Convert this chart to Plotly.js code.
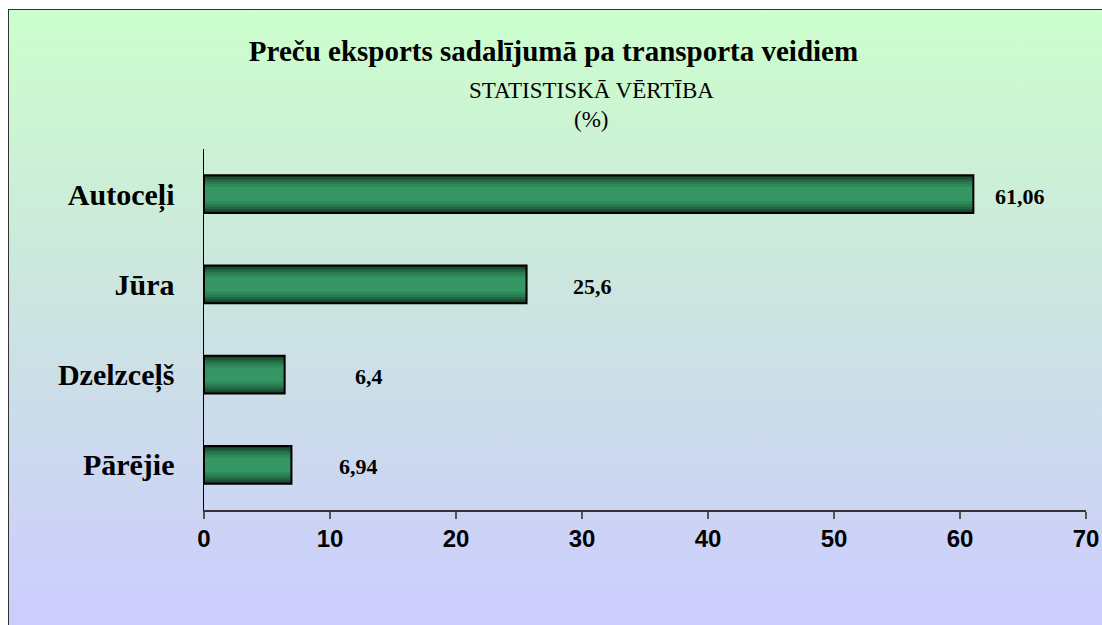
<!DOCTYPE html>
<html>
<head>
<meta charset="utf-8">
<script src="https://cdn.plot.ly/plotly-3.0.1.min.js"></script>
<style>
  html, body { margin: 0; padding: 0; width: 1102px; height: 625px; overflow: hidden; background: #ffffff; }
  #box {
    position: absolute; left: 8px; top: 9px; width: 1100px; height: 620px;
    border: 1px solid #333333; box-sizing: border-box;
    background: linear-gradient(to bottom, #ccffcc 0%, #cce8dc 40%, #ccccff 100%);
  }
  #chart { position: absolute; left: 0; top: 0; }
</style>
</head>
<body>
<div id="box"><div id="chart"></div></div>
<script>
// ---- data ----
const categories = ['Autoceļi', 'Jūra', 'Dzelzceļš', 'Pārējie'];
const values = [61.06, 25.6, 6.4, 6.94];
const valueLabels = ['61,06', '25,6', '6,4', '6,94'];
const xTickVals = [0, 10, 20, 30, 40, 50, 60, 70];
const titleText = 'Preču eksports sadalījumā pa transporta veidiem';
const subtitleText = 'STATISTISKĀ VĒRTĪBA';
const unitText = '(%)';

// ---- style ----
const labelShift = [20, 44, 68, 46];
const layerWidths = [0.42, 0.38, 0.33, 0.28, 0.22, 0.16];
const layerColors = ['#163a27', '#1d5036', '#246644', '#2a7a50', '#2f8a5b', '#339663'];
const serif = '"Liberation Serif", "Times New Roman", serif';
const sans = '"Liberation Sans", Arial, sans-serif';

const traces = layerWidths.map((w, i) => ({
  type: 'bar', orientation: 'h',
  x: values, y: categories,
  width: categories.map(() => w),
  marker: { color: layerColors[i], line: { width: 0 } },
  hoverinfo: 'skip', showlegend: false
}));
traces.push({
  type: 'bar', orientation: 'h',
  x: values, y: categories,
  width: categories.map(() => layerWidths[0]),
  marker: { color: 'rgba(0,0,0,0)', line: { color: '#000000', width: 2 } },
  hoverinfo: 'skip', showlegend: false
});

const annotations = values.map((v, i) => ({
  x: v, y: categories[i], xref: 'x', yref: 'y',
  text: '<b>' + valueLabels[i] + '</b>', showarrow: false,
  xanchor: 'left', yanchor: 'middle', xshift: labelShift[i], yshift: -2,
  font: { family: serif, size: 22, color: '#000000' }
}));
annotations.push({
  xref: 'paper', yref: 'paper', x: 0.439, y: 1.1623, xanchor: 'center', yanchor: 'middle',
  text: subtitleText, showarrow: false,
  font: { family: serif, size: 23, color: '#000000' }
});
annotations.push({
  xref: 'paper', yref: 'paper', x: 0.439, y: 1.0805, xanchor: 'center', yanchor: 'middle',
  text: unitText, showarrow: false,
  font: { family: serif, size: 23, color: '#000000' }
});

const layout = {
  width: 1100, height: 620,
  margin: { l: 195, r: 23, t: 139, b: 120 },
  paper_bgcolor: 'rgba(0,0,0,0)',
  plot_bgcolor: 'rgba(0,0,0,0)',
  barmode: 'overlay',
  title: {
    text: '<b>' + titleText + '</b>',
    font: { family: serif, size: 29, color: '#000000' },
    x: 0.495, xref: 'container', xanchor: 'center',
    y: 1 - 41 / 620, yref: 'container', yanchor: 'middle'
  },
  xaxis: {
    range: [0, 70], tickvals: xTickVals, ticktext: xTickVals.map(String),
    showgrid: false, zeroline: false,
    showline: true, linecolor: '#333333', linewidth: 1.5,
    ticks: 'outside', ticklen: 7, tickcolor: '#555555', tickwidth: 1.5,
    tickfont: { family: sans, size: 24, color: '#000000', weight: 'bold' },
    ticklabelstandoff: 0,
    fixedrange: true
  },
  yaxis: {
    type: 'category', categoryorder: 'array', categoryarray: categories,
    autorange: false, range: [3.5, -0.5],
    showgrid: false, zeroline: false,
    showline: true, linecolor: '#000000', linewidth: 1.5,
    ticks: '', ticklabelstandoff: 22,
    tickfont: { family: serif, size: 30, color: '#000000', weight: 'bold' },
    fixedrange: true
  },
  annotations: annotations,
  showlegend: false
};

Plotly.newPlot('chart', traces, layout, { displayModeBar: false, staticPlot: true });
</script>
</body>
</html>
